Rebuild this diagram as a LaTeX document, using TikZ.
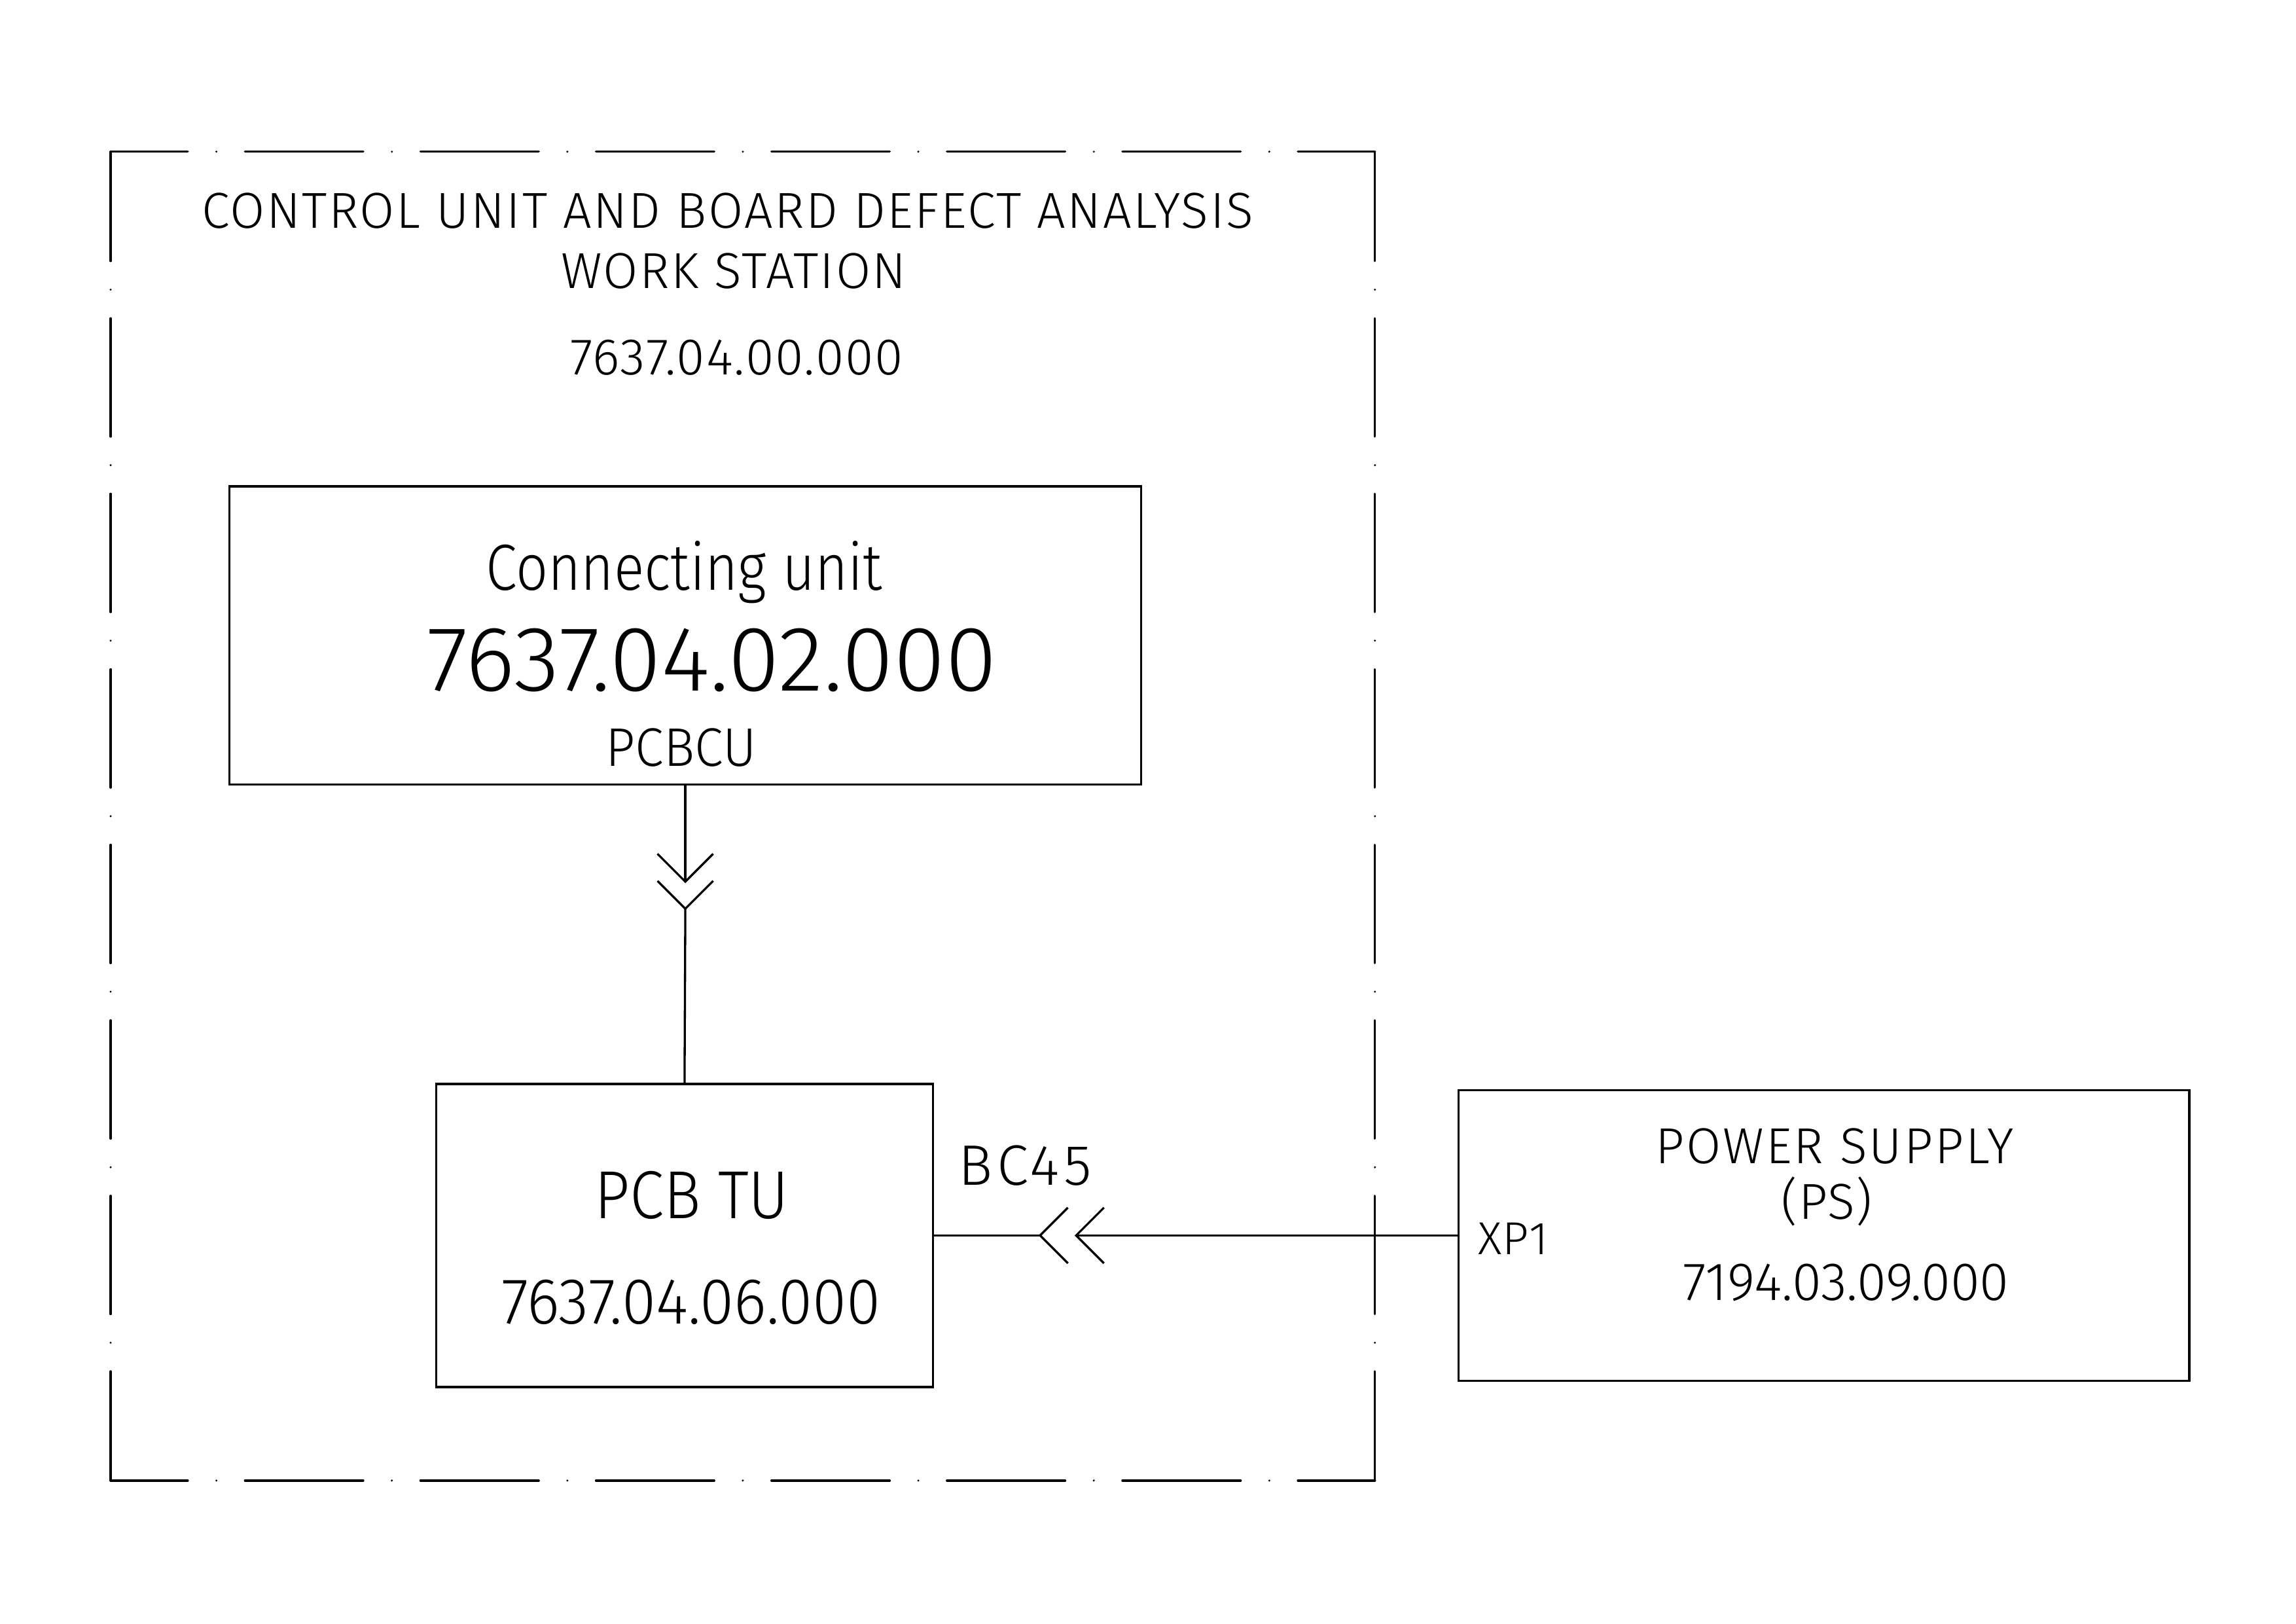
\documentclass[tikz,border=0pt]{standalone}
\usepackage{fontspec}
\setmainfont{Fira Sans Light}
\usetikzlibrary{positioning,calc}

\newcommand{\cadsize}[1]{\fontsize{#1pt}{#1pt}\selectfont}
\newcommand{\cadwidth}[1]{\addfontfeatures{FakeStretch=#1}}
\newcommand{\cadspace}[1]{\addfontfeatures{LetterSpace=#1}}

\tikzset{
  block/.style={draw, rectangle, line width=0.28mm, inner sep=0pt},
  lbl/.style={inner sep=0pt, anchor=base},
  wire/.style={line width=0.28mm},
  frameline/.style={line width=0.28mm, line cap=round,
    dash pattern=on 15.3mm off 3.7mm on 0mm off 3.7mm},
}

\begin{document}
\begin{tikzpicture}[x=1mm,y=1mm]
  \useasboundingbox (0,0) rectangle (297,210);
  % work station frame
  \coordinate (fr-nw) at (14.31,190.38);
  \coordinate (fr-ne) at (177.86,190.38);
  \coordinate (fr-sw) at (14.31,18.5);
  \coordinate (fr-se) at (177.86,18.5);
  \draw[frameline, dash phase=5.32mm] (fr-nw) -- (fr-ne);
  \draw[frameline, dash phase=5.32mm] (fr-sw) -- (fr-se);
  \draw[frameline, dash phase=1.15mm] (fr-nw) -- (fr-sw);
  \draw[frameline, dash phase=1.15mm] (fr-ne) -- (fr-se);
  \node[lbl] (ws-title) at (94.1,180.45) {\cadsize{18.6}\cadspace{3.2}CONTROL UNIT AND BOARD DEFECT ANALYSIS};
  \node[lbl] (ws-title2) at (94.9,172.7) {\cadsize{18.6}\cadspace{3}WORK STATION};
  \node[lbl] (ws-num) at (95.3,161.5) {\cadsize{19}\cadspace{2.4}7637.04.00.000};
  %
  \node[block, minimum width=117.9mm, minimum height=38.6mm] (cu) at (88.65,127.8) {};
  \node[lbl] (cu-name) at (88.5,133.7) {\cadsize{24}\cadwidth{0.866}Connecting unit};
  \node[lbl] (cu-num) at (92.1,120.6) {\cadsize{34}\cadwidth{1.017}7637.04.02.000};
  \node[lbl] (cu-tag) at (88.1,110.9) {\cadsize{20}\cadwidth{0.95}PCBCU};
  %
  \node[block, minimum width=64.3mm, minimum height=39.2mm] (tu) at (88.55,50.2) {};
  \node[lbl] (tu-name) at (89.5,52.4) {\cadsize{25}\cadwidth{0.91}PCB TU};
  \node[lbl] (tu-num) at (89.4,38.8) {\cadsize{24}\cadwidth{0.95}7637.04.06.000};
  %
  \node[block, minimum width=94.5mm, minimum height=37.6mm] (ps) at (235.95,50.2) {};
  \node[lbl] (ps-name) at (237.3,59.5) {\cadsize{18.6}\cadspace{3.9}POWER SUPPLY};
  \node[lbl] (ps-abbr) at (236.3,52.3) {\cadsize{18.6}\cadspace{2}(PS)};
  \node[lbl] (ps-num) at (238.8,41.8) {\cadsize{19.8}\cadwidth{0.99}7194.03.09.000};
  \node[lbl, anchor=base west] (ps-pin) at (191.1,47.7) {\cadsize{17}\cadspace{2}XP1};
  %
  % connector CU -> TU
  \coordinate (v1) at ($(cu.south)+(0,-12.4)$);
  \coordinate (v2) at ($(v1)+(0,-3.5)$);
  \draw[wire] (cu.south) -- (v1);
  \draw[wire] ($(v1)+(-3.6,3.6)$) -- (v1) -- ($(v1)+(3.6,3.6)$);
  \draw[wire] ($(v2)+(-3.6,3.6)$) -- (v2) -- ($(v2)+(3.6,3.6)$);
  \draw[wire] (v2) -- (tu.north);
  %
  % connector PS -> TU
  \coordinate (h1) at ($(tu.east)+(13.7,0)$);
  \coordinate (h2) at ($(h1)+(4.66,0)$);
  \draw[wire] (tu.east) -- (h1);
  \draw[wire] ($(h1)+(3.6,3.6)$) -- (h1) -- ($(h1)+(3.6,-3.6)$);
  \draw[wire] ($(h2)+(3.6,3.6)$) -- (h2) -- ($(h2)+(3.6,-3.6)$);
  \draw[wire] (h2) -- (ps.west);
  \node[lbl] (bc) at (132.6,56.75) {\cadsize{21}\cadspace{8}BC45};
\end{tikzpicture}
\end{document}
